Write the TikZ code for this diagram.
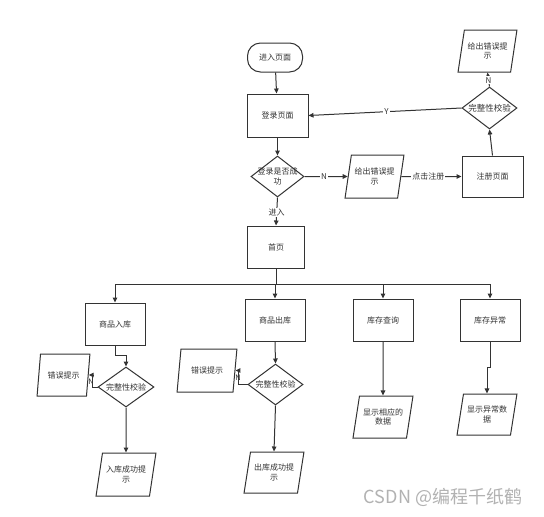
\documentclass[tikz,border=0pt]{standalone}
\usepackage{fontspec}
\setmainfont{Noto Sans CJK SC}
\usetikzlibrary{shapes.geometric,arrows.meta,calc}
\definecolor{ln}{HTML}{333333}
\tikzset{
  base/.style={draw=ln, line width=1pt, font=\fontsize{8}{9.5}\selectfont, text=ln, align=center},
  box/.style={base, rectangle, minimum width=60pt, minimum height=42pt, inner sep=1pt},
  term/.style={base, rectangle, rounded corners=13pt, minimum width=55pt, minimum height=29pt},
  io/.style={base, trapezium, trapezium left angle=72, trapezium right angle=108, trapezium stretches=true, minimum width=60pt, minimum height=43pt, inner sep=0pt},
  dia/.style={base, diamond, inner sep=0pt, minimum width=55pt, minimum height=41pt},
  dlbl/.style={font=\fontsize{8}{9.5}\selectfont, text=ln, align=center, inner sep=0pt},
  arr/.style={draw=ln, line width=1pt, -{Triangle[length=5pt,width=4.5pt]}},
  tag/.style={font=\fontsize{8}{9.5}\selectfont, text=ln, fill=white, inner sep=1pt},
}
\begin{document}
\begin{tikzpicture}[x=1pt,y=-1pt]
\fill[white] (0,0) rectangle (544,517);
\useasboundingbox (0,0) rectangle (544,517);
% top row
\node[term] (start) at (275,57.5) {进入页面};
\node[box, minimum width=61pt, minimum height=43pt] (login) at (277.5,115.5) {登录页面};
\node[dia, minimum width=53pt, label={[dlbl]center:登录是否成\\功}] (d1) at (277.5,176.5) {};
\node[io, minimum width=59pt] (err1) at (374.5,176.5) {给出错误提\\示};
\node[box, minimum width=61pt, minimum height=41pt] (reg) at (492.5,176.5) {注册页面};
\node[dia, minimum height=42pt, label={[dlbl, font=\fontsize{8.5}{10}\selectfont]center:完整性校验}] (d2) at (489.5,108) {};
\node[io, minimum width=59pt, minimum height=42pt] (err2) at (487.5,51) {给出错误提\\示};
% home
\node[box, minimum width=57pt] (home) at (276,247) {首页};
\coordinate (bus) at (276,284);
\node[box] (in) at (115,324) {商品入库};
\node[box] (out) at (275,320) {商品出库};
\node[box] (qry) at (383,320) {库存查询};
\node[box] (abn) at (490,320) {库存异常};
% in branch
\node[dia, minimum width=56pt, minimum height=40pt, label={[dlbl]center:完整性校验}] (dA) at (126,387) {};
\node[io, minimum width=53pt, minimum height=42pt] (eA) at (63.5,375) {错误提示};
\node[io] (okA) at (126,474.5) {入库成功提\\示};
% out branch
\node[dia, minimum width=55pt, minimum height=41pt, label={[dlbl]center:完整性校验}] (dB) at (275.5,384.5) {};
\node[io] (eB) at (207,370.5) {错误提示};
\node[io, minimum height=41pt] (okB) at (274,472.5) {出库成功提\\示};
% query / abnormal
\node[io, minimum height=42pt] (shQ) at (383,417) {显示相应的\\数据};
\node[io, minimum height=41pt] (shA) at (487,414.5) {显示异常数\\据};
% connectors
\draw[arr] (start) -- (login);
\draw[arr] (login) -- (d1);
\draw[arr] (d1.east) -- (err1.west) node[tag, pos=0.45] {N};
\draw[arr] (err1.east) -- (reg.west) node[tag, pos=0.45] {点击注册};
\draw[arr] (reg.north) -- (d2.south);
\draw[arr] (d2.west) -- (login.east) node[tag, pos=0.49] {Y};
\draw[arr] (d2.north) -- (err2.south) node[tag, pos=0.45] {N};
\draw[arr] (d1.south) -- (home.north) node[tag, pos=0.55] {进入};
\draw[arr] (home.south) -- (bus) -| (in.north);
\draw[arr] (bus) -| (out.north);
\draw[arr] (bus) -| (qry.north);
\draw[arr] (bus) -| (abn.north);
\draw[arr] (in.south) -- ++(0,10) -| (dA.north);
\draw[arr] (dA.west) -- ++(-5,0) |- (eA.east);
\node[font=\fontsize{7.5}{9}\selectfont, text=ln] (nA) at (91,382) {N};
\draw[arr] (dA.south) -- (okA.north);
\draw[arr] (out.south) -- (dB.north);
\draw[arr] (dB.west) -- ++(-9,0) |- (eB.east);
\node[font=\fontsize{7.5}{9}\selectfont, text=ln] (nB) at (238,378) {N};
\draw[arr] (dB.south) -- (okB.north);
\draw[arr] (qry.south) -- (shQ.north);
\draw[arr] (abn.south) -- ++(0,26) -| (shA.north);
% watermark
\node[font=\fontsize{18}{20}\selectfont, text=black!30] (wm) at (443,497) {CSDN @编程千纸鹤};
\end{tikzpicture}
\end{document}
